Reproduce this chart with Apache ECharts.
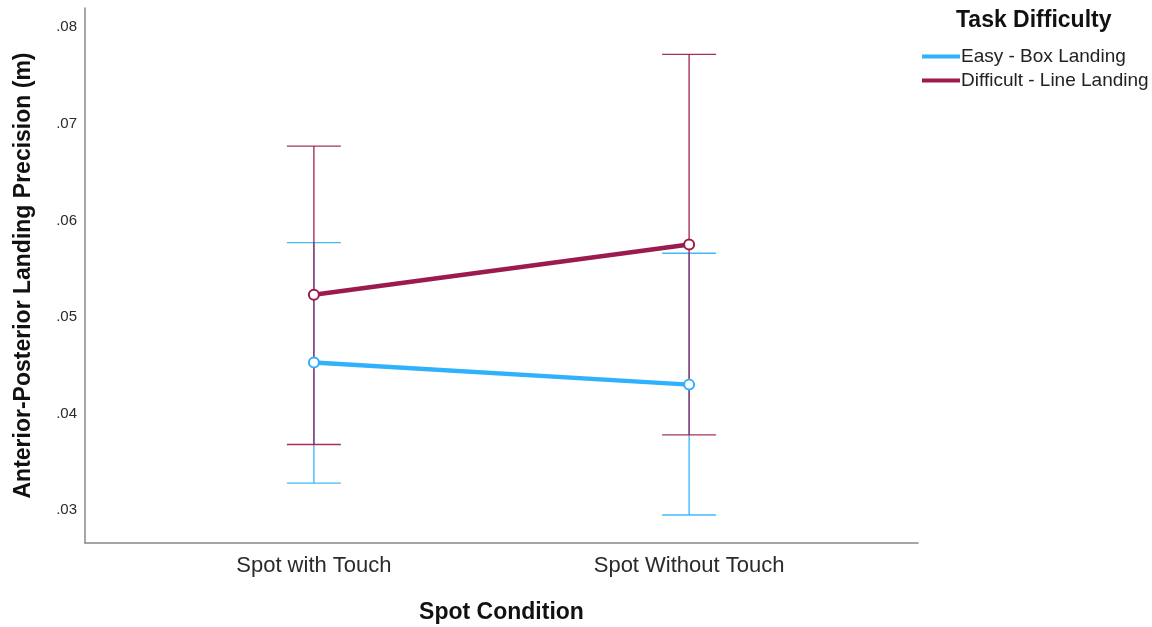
<!DOCTYPE html>
<html>
<head>
<meta charset="utf-8">
<script src="https://cdn.jsdelivr.net/npm/echarts@6/dist/echarts.min.js"></script>
<style>html,body{margin:0;padding:0;background:#fff;}#c{width:1152px;height:627px;}</style>
</head>
<body>
<div id="c"></div>
<script>
var categories = ['Spot with Touch', 'Spot Without Touch'];
var seriesNames = ['Easy - Box Landing', 'Difficult - Line Landing'];
var easyMean = [0.0453, 0.0430];
var easyLow = [0.0328, 0.0295];
var easyHigh = [0.0577, 0.0566];
var diffMean = [0.0523, 0.0575];
var diffLow = [0.0368, 0.0378];
var diffHigh = [0.0677, 0.0772];
var yTickValues = [0.03, 0.04, 0.05, 0.06, 0.07, 0.08];
var yTickLabels = ['.03', '.04', '.05', '.06', '.07', '.08'];

var colors = ['#2fb1fb', '#9b1b4e'];
var font = 'Liberation Sans, Arial, sans-serif';

function pts(means) { return means.map(function (v, i) { return [i + 1, v]; }); }
function bars(lo, hi) { return lo.map(function (v, i) { return [i + 1, v, hi[i]]; }); }

function errRender(color) {
  return function (params, api) {
    var x = api.value(0);
    var a = api.coord([x, api.value(1)]);
    var b = api.coord([x, api.value(2)]);
    var hw = 27;
    var st = { stroke: color, lineWidth: 1.4, opacity: 0.9 };
    return {
      type: 'group',
      children: [
        { type: 'line', shape: { x1: a[0], y1: a[1], x2: b[0], y2: b[1] }, style: st },
        { type: 'line', shape: { x1: a[0] - hw, y1: a[1], x2: a[0] + hw, y2: a[1] }, style: st },
        { type: 'line', shape: { x1: b[0] - hw, y1: b[1], x2: b[0] + hw, y2: b[1] }, style: st }
      ]
    };
  };
}

var chart = echarts.init(document.getElementById('c'));
chart.setOption({
  animation: false,
  backgroundColor: '#fff',
  textStyle: { fontFamily: font },
  grid: { left: 85, right: 234, top: 8, bottom: 84, outerBoundsMode: 'none', containLabel: false },
  title: {
    text: 'Task Difficulty', left: 956, top: 9, padding: 0,
    textStyle: { fontFamily: font, fontSize: 23, fontWeight: 'bold', color: '#111' }
  },
  legend: {
    data: [
      { name: seriesNames[0], itemStyle: { color: colors[0], borderWidth: 0 } },
      { name: seriesNames[1], itemStyle: { color: colors[1], borderWidth: 0 } }
    ],
    orient: 'vertical', left: 922, top: 47, padding: 0,
    itemWidth: 38, itemHeight: 4, itemGap: 5, icon: 'rect',
    textStyle: { fontFamily: font, fontSize: 19, color: '#222', padding: [0, 0, 0, -4] }
  },
  xAxis: {
    type: 'value', min: 0.39, max: 2.61,
    name: 'Spot Condition', nameLocation: 'middle', nameGap: 58,
    nameTextStyle: { fontFamily: font, fontSize: 23, fontWeight: 'bold', color: '#111', verticalAlign: 'top' },
    axisLine: { lineStyle: { color: '#888', width: 1.5 } },
    axisTick: { show: false },
    splitLine: { show: false },
    axisLabel: {
      customValues: [1, 2], margin: 12,
      formatter: function (v) { return categories[Math.round(v) - 1]; },
      fontFamily: font, fontSize: 22, color: '#2a2a2a'
    }
  },
  yAxis: {
    type: 'value', min: 0.0266, max: 0.082,
    name: 'Anterior-Posterior Landing Precision (m)', nameLocation: 'middle', nameGap: 50,
    nameTextStyle: { fontFamily: font, fontSize: 23, fontWeight: 'bold', color: '#111' },
    axisLine: { show: true, lineStyle: { color: '#888', width: 1.5 } },
    axisTick: { show: false },
    splitLine: { show: false },
    axisLabel: {
      customValues: yTickValues, margin: 8,
      formatter: function (v) {
        for (var i = 0; i < yTickValues.length; i++) { if (Math.abs(v - yTickValues[i]) < 1e-6) return yTickLabels[i]; }
        return '';
      },
      fontFamily: font, fontSize: 15, color: '#2a2a2a'
    }
  },
  series: [
    { type: 'custom', name: 'eb0', data: bars(easyLow, easyHigh), renderItem: errRender(colors[0]), z: 1, silent: true },
    { type: 'custom', name: 'eb1', data: bars(diffLow, diffHigh), renderItem: errRender(colors[1]), z: 2, silent: true },
    {
      type: 'line', name: seriesNames[0], data: pts(easyMean), color: colors[0],
      lineStyle: { width: 4.5, color: colors[0] }, symbol: 'emptyCircle', symbolSize: 10,
      itemStyle: { color: colors[0], borderColor: colors[0], borderWidth: 1.3 }, z: 3
    },
    {
      type: 'line', name: seriesNames[1], data: pts(diffMean), color: colors[1],
      lineStyle: { width: 4.5, color: colors[1] }, symbol: 'emptyCircle', symbolSize: 10,
      itemStyle: { color: colors[1], borderColor: colors[1], borderWidth: 1.3 }, z: 4
    }
  ]
});
</script>
</body>
</html>
